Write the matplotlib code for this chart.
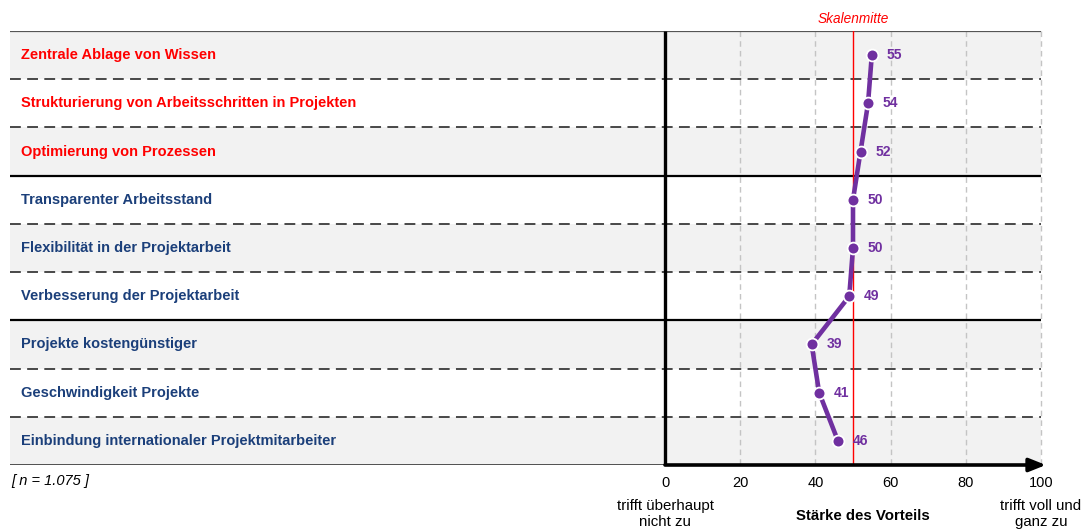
import matplotlib
matplotlib.use("Agg")
import matplotlib.pyplot as plt

plt.rcParams['font.family'] = ['Liberation Sans', 'DejaVu Sans']

categories = [
    "Zentrale Ablage von Wissen",
    "Strukturierung von Arbeitsschritten in Projekten",
    "Optimierung von Prozessen",
    "Transparenter Arbeitsstand",
    "Flexibilität in der Projektarbeit",
    "Verbesserung der Projektarbeit",
    "Projekte kostengünstiger",
    "Geschwindigkeit Projekte",
    "Einbindung internationaler Projektmitarbeiter",
]
values = [55, 54, 52, 50, 50, 49, 39, 41, 46]
highlight = [True, True, True, False, False, False, False, False, False]
x_ticks = [0, 20, 40, 60, 80, 100]
scale_mid = 50

RED = "#FF0000"
BLUE = "#1B3F7A"
PURPLE = "#7030A0"
SHADE = "#F2F2F2"

W, H = 1083, 530
fig = plt.figure(figsize=(W / 100, H / 100), dpi=100)

# table area in pixels: left 10, right 1041, top 31, bottom 465
left_px, right_px, top_px, bot_px = 10, 1041, 31, 465
zero_px = 665
ax = fig.add_axes([left_px / W, (H - bot_px) / H,
                   (right_px - left_px) / W, (bot_px - top_px) / H])
unit = (right_px - zero_px) / 100.0
xmin = -(zero_px - left_px) / unit
n = len(categories)
ax.set_xlim(xmin, 100)
ax.set_ylim(n, 0)
ax.axis("off")
row_px = (bot_px - top_px) / n

def py(px):
    return (px - top_px) / row_px

# alternating row shading
for i in range(n):
    if i % 2 == 0:
        ax.axhspan(i, i + 1, color=SHADE, zorder=0, lw=0)

# vertical grid
for t in x_ticks[1:]:
    ax.plot([t, t], [0, n], color="#C4C4C4", lw=1.0, ls=(0, (4, 3)),
            zorder=1, clip_on=False)

# row separators
for i in range(1, n):
    if i in (3, 6):
        ax.plot([xmin, 100], [i, i], color="black", lw=1.6, zorder=2)
    else:
        ax.plot([xmin, 100], [i, i], color="#3A3A3A", lw=1.3,
                ls=(0, (6, 3.5)), zorder=2)
ax.plot([xmin, 100], [0, 0], color="#555555", lw=1.6, zorder=2)
ax.plot([xmin, 0], [n, n], color="#444444", lw=1.3, zorder=2)

# axes: vertical zero line and horizontal arrow
ax.plot([0, 0], [0, n], color="black", lw=2.4, zorder=3, solid_capstyle="butt")
ax.annotate("", xy=(101.3, n), xytext=(0, n), annotation_clip=False,
            arrowprops=dict(arrowstyle="-|>,head_length=1.0,head_width=0.4",
                            lw=2.6, color="black", shrinkA=0, shrinkB=0),
            zorder=4)

# scale midpoint
ax.plot([scale_mid, scale_mid], [0, n], color=RED, lw=1.0, zorder=3)
ax.text(scale_mid, py(19), "Skalenmitte", color=RED, style="italic",
        fontsize=9.8, ha="center", va="center", clip_on=False)

# category labels
for i, (c, h) in enumerate(zip(categories, highlight)):
    ax.text(xmin + 11 / unit, i + 0.5, c, color=RED if h else BLUE,
            fontsize=10.5, fontweight="bold", ha="left", va="center")

# profile line
ys = [i + 0.5 for i in range(n)]
ax.plot(values, ys, color=PURPLE, lw=3.3, zorder=5, solid_capstyle="round")
ax.plot(values, ys, ls="none", marker="o", ms=8.5, mfc=PURPLE,
        mec="white", mew=1.3, zorder=6)
for v, y in zip(values, ys):
    ax.text(v + 15 / unit, y, str(v), color=PURPLE, fontsize=10,
            fontweight="bold", ha="left", va="center", zorder=7)

# tick labels and scale descriptions
for t in x_ticks:
    ax.text(t, py(483), str(t), fontsize=10.5, ha="center", va="center",
            clip_on=False)
ax.text(0, py(514), "trifft überhaupt\nnicht zu", fontsize=10.8, ha="center",
        va="center", linespacing=1.2, clip_on=False)
ax.text(100, py(514), "trifft voll und\nganz zu", fontsize=10.8, ha="center",
        va="center", linespacing=1.2, clip_on=False)
ax.text((863 - zero_px) / unit, py(516), "Stärke des Vorteils", fontsize=10.8,
        fontweight="bold", ha="center", va="center", clip_on=False)
ax.text(xmin + 1 / unit, py(481), "[ n = 1.075 ]", fontsize=10.5, style="italic",
        ha="left", va="center", clip_on=False)

fig.savefig("out.png", dpi=100)
